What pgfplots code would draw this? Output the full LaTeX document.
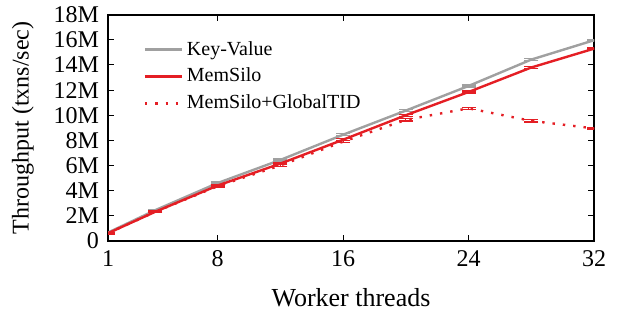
\documentclass[border=0pt]{standalone}
\usepackage{pgfplots}
\pgfplotsset{compat=1.18}
\usepackage{fontspec}
\setmainfont{Liberation Serif}
\definecolor{kvgray}{RGB}{160,160,160}
\definecolor{msred}{RGB}{228,30,36}
\begin{document}
\begin{tikzpicture}
\begin{axis}[
  scale only axis,
  width=243pt, height=113pt,
  xmin=1, xmax=32, ymin=0, ymax=18,
  xtick={1,8,16,24,32},
  ytick={0,2,4,6,8,10,12,14,16,18},
  yticklabels={0,2M,4M,6M,8M,10M,12M,14M,16M,18M},
  tick align=inside,
  major tick length=3pt,
  axis line style={line width=1pt},
  tick style={line width=0.5pt, black},
  /pgf/number format/assume math mode=true,
  tick label style={font=\fontsize{12}{14}\selectfont},
  yticklabel style={xshift=-1pt},
  xticklabel style={yshift=-1.4pt},
  xlabel style={font=\fontsize{13}{15}\selectfont, yshift=-4pt},
  ylabel style={font=\fontsize{12}{14}\selectfont, yshift=3pt},
  xlabel={Worker threads},
  ylabel={Throughput (txns/sec)},
  legend style={draw=none, fill=none, at={(0.06,0.92)}, anchor=north west, font=\fontsize{10}{12}\selectfont, row sep=1pt},
  legend cell align=left,
  legend image code/.code={\draw[#1] (0cm,0cm) -- (0.65cm,0cm);},
  error bars/error bar style={line width=0.6pt},
  error bars/error mark options={rotate=90, mark size=3.5pt, line width=0.7pt},
  after end axis/.code={\path (rel axis cs:1,0) ++(12pt,0pt); \path (rel axis cs:0,0) ++(-54pt,0pt);},
]
\addplot[kvgray, line width=1.2pt, mark=none,
  error bars/.cd, y dir=both, y explicit] coordinates {
  (1,0.65) +- (0,0.05)
  (4,2.43) +- (0,0.06)
  (8,4.6) +- (0,0.08)
  (12,6.44) +- (0,0.08)
  (16,8.45) +- (0,0.08)
  (20,10.37) +- (0,0.08)
  (24,12.33) +- (0,0.08)
  (28,14.43) +- (0,0.08)
  (32,15.97) +- (0,0.06)
};
\addlegendentry{Key-Value}
\addplot[msred, line width=1.2pt, mark=none,
  error bars/.cd, y dir=both, y explicit] coordinates {
  (1,0.6) +- (0,0.05)
  (4,2.3) +- (0,0.06)
  (8,4.4) +- (0,0.08)
  (12,6.15) +- (0,0.08)
  (16,8.05) +- (0,0.08)
  (20,10.0) +- (0,0.08)
  (24,11.85) +- (0,0.08)
  (28,13.8) +- (0,0.08)
  (32,15.3) +- (0,0.06)
};
\addlegendentry{MemSilo}
\addplot[msred, line width=1.2pt, dash pattern=on 1.2pt off 4pt, mark=none,
  error bars/.cd, y dir=both, y explicit, error bar style={solid}] coordinates {
  (1,0.6) +- (0,0.05)
  (4,2.3) +- (0,0.06)
  (8,4.35) +- (0,0.08)
  (12,6.0) +- (0,0.1)
  (16,7.9) +- (0,0.08)
  (20,9.63) +- (0,0.1)
  (24,10.55) +- (0,0.08)
  (28,9.55) +- (0,0.1)
  (32,8.95) +- (0,0.06)
};
\addlegendentry{MemSilo+GlobalTID}
\end{axis}
\end{tikzpicture}
\end{document}
